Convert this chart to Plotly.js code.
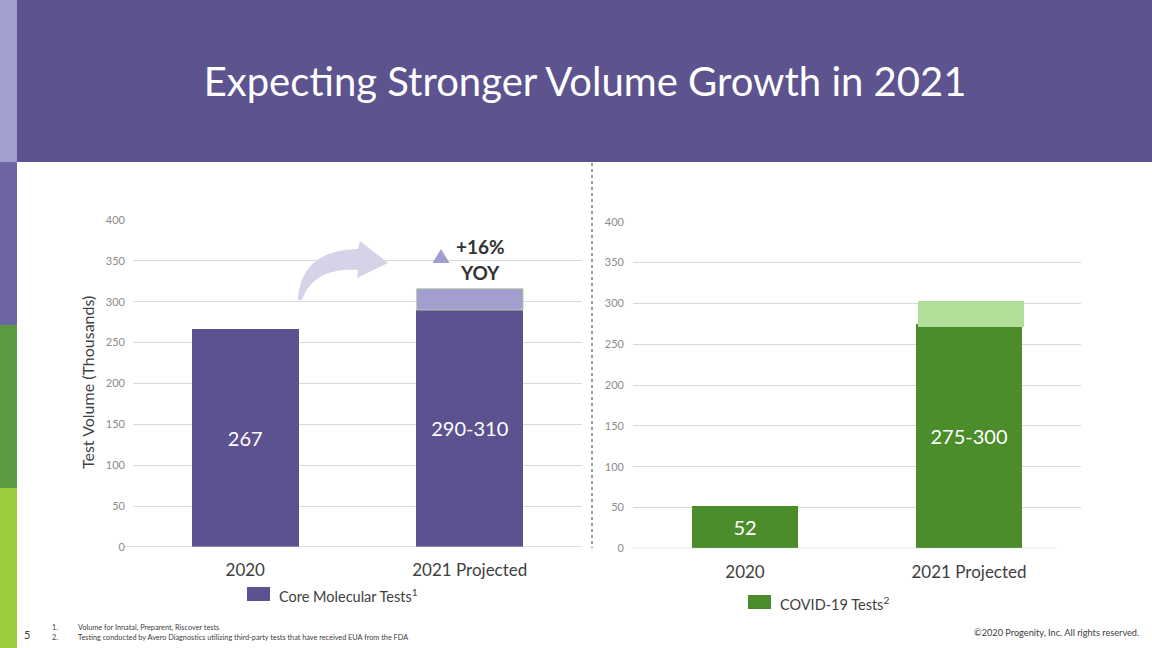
<!DOCTYPE html>
<html>
<head>
<meta charset="utf-8">
<script src="https://cdn.plot.ly/plotly-3.0.1.min.js"></script>
<style>html,body{margin:0;padding:0;background:#fff;}#chart{width:1152px;height:648px;}</style>
</head>
<body>
<div id="chart"></div>
<script>
// ---- data ----
const categories = ['2020', '2021 Projected'];
const coreValues = [267, 290];
const coreLabels = ['267', '290-310'];
const coreRangeBase = [null, 290];
const coreRangeTop = [null, 316];
const covidValues = [52, 275];
const covidLabels = ['52', '275-300'];
const covidRangeBase = [null, 271];
const covidRangeTop = [null, 303];
const seriesNames = ['Core Molecular Tests', 'COVID-19 Tests'];
const yTicks = [0, 50, 100, 150, 200, 250, 300, 350, 400];
const growthText = ['+16%', 'YOY'];

const W = 1152, H = 648;
const px = x => x / W;
const py = y => 1 - y / H;
const FONT = 'Lato, "Open Sans", sans-serif';
const purple = '#5c528f', lightPurple = '#a29fd0';
const green = '#4b8c2b', lightGreen = '#b1de98';
const barW = 0.475;

const diff = (a, b) => a.map((v, i) => v == null ? null : v - b[i]);

const traces = [
  {type: 'bar', x: categories, y: coreValues, xaxis: 'x', yaxis: 'y', width: barW,
   marker: {color: purple}, text: coreLabels, textposition: 'inside', insidetextanchor: 'middle',
   textangle: 0, textfont: {color: '#ffffff', size: 20, family: FONT}, constraintext: 'none',
   hoverinfo: 'skip', showlegend: false, name: seriesNames[0]},
  {type: 'bar', x: categories, y: diff(coreRangeTop, coreRangeBase), base: coreRangeBase, xaxis: 'x', yaxis: 'y', width: barW,
   marker: {color: lightPurple, line: {color: '#b9d3ad', width: 1}}, hoverinfo: 'skip', showlegend: false},
  {type: 'bar', x: categories, y: covidValues, xaxis: 'x2', yaxis: 'y2', width: barW,
   marker: {color: green}, text: covidLabels, textposition: 'inside', insidetextanchor: 'middle',
   textangle: 0, textfont: {color: '#ffffff', size: 20, family: FONT}, constraintext: 'none',
   hoverinfo: 'skip', showlegend: false, name: seriesNames[1]},
  {type: 'bar', x: categories, y: diff(covidRangeTop, covidRangeBase), base: covidRangeBase, xaxis: 'x2', yaxis: 'y2', width: barW,
   offset: -barW / 2 + 0.01,
   marker: {color: lightGreen}, hoverinfo: 'skip', showlegend: false}
];

const yCommon = {range: [0, 400], tickvals: yTicks, showgrid: true, gridcolor: '#d9d9d9', gridwidth: 1,
  tickfont: {size: 11, color: '#8c8c8c', family: FONT}, showline: false, zeroline: false, ticks: '',
  ticklabelstandoff: 7, fixedrange: true};
const xCommon = {type: 'category', range: [-0.5, 1.5], showgrid: false, showline: false, zeroline: false, ticks: '',
  tickfont: {size: 17, color: '#404040', family: FONT}, fixedrange: true};

const shapes = [
  // left strip
  {type: 'rect', xref: 'paper', yref: 'paper', x0: 0, x1: px(17), y0: py(0), y1: py(162), fillcolor: '#a29ecf', line: {width: 0}, layer: 'below'},
  {type: 'rect', xref: 'paper', yref: 'paper', x0: 0, x1: px(17), y0: py(162), y1: py(325), fillcolor: '#6d66a2', line: {width: 0}, layer: 'below'},
  {type: 'rect', xref: 'paper', yref: 'paper', x0: 0, x1: px(17), y0: py(325), y1: py(488), fillcolor: '#5a9b44', line: {width: 0}, layer: 'below'},
  {type: 'rect', xref: 'paper', yref: 'paper', x0: 0, x1: px(17), y0: py(488), y1: py(648), fillcolor: '#9ccb3b', line: {width: 0}, layer: 'below'},
  // header band
  {type: 'rect', xref: 'paper', yref: 'paper', x0: px(17), x1: 1, y0: py(0), y1: py(162), fillcolor: '#5c538f', line: {width: 0}, layer: 'below'},
  // dotted divider
  {type: 'line', xref: 'paper', yref: 'paper', x0: px(592), x1: px(592), y0: py(163), y1: py(548), line: {color: '#808080', width: 1.5, dash: 'dot'}},
  // baselines
  {type: 'line', xref: 'paper', yref: 'y', x0: px(125), x1: px(582), y0: 0, y1: 0, line: {color: '#bfbfbf', width: 1}},
  {type: 'line', xref: 'paper', yref: 'y2', x0: px(633), x1: px(1057), y0: 0, y1: 0, line: {color: '#bfbfbf', width: 1}},
  // curved arrow
  {type: 'path', xref: 'paper', yref: 'paper',
   path: ['M', px(298), py(300), 'C', px(300), py(268), px(318), py(250), px(358), py(249),
          'L', px(360), py(241), 'L', px(388), py(263), 'L', px(357), py(278), 'L', px(358), py(270),
          'C', px(332), py(268), px(310), py(276), px(302), py(300), 'Z'].join(' '),
   fillcolor: '#d5d3e8', line: {width: 0}},
  // triangle
  {type: 'path', xref: 'paper', yref: 'paper',
   path: ['M', px(432.5), py(263), 'L', px(449.5), py(263), 'L', px(441), py(249), 'Z'].join(' '),
   fillcolor: lightPurple, line: {width: 0}},
  // legend swatches
  {type: 'rect', xref: 'paper', yref: 'paper', x0: px(247), x1: px(270), y0: py(587), y1: py(601), fillcolor: purple, line: {width: 0}},
  {type: 'rect', xref: 'paper', yref: 'paper', x0: px(748), x1: px(771), y0: py(595), y1: py(609), fillcolor: green, line: {width: 0}}
];

const ann = (x, y, text, opts) => Object.assign({xref: 'paper', yref: 'paper', x: px(x), y: py(y), text: text,
  showarrow: false, xanchor: 'left', yanchor: 'middle', font: {family: FONT, size: 15, color: '#404040'}}, opts || {});

const annotations = [
  ann(480, 246, '<b>' + growthText[0] + '</b>', {xanchor: 'center', font: {family: FONT, size: 19, color: '#333333'}}),
  ann(480, 272, '<b>' + growthText[1] + '</b>', {xanchor: 'center', font: {family: FONT, size: 19, color: '#333333'}}),
  ann(277, 595, seriesNames[0] + '<sup>1</sup>', {font: {family: FONT, size: 14.5, color: '#404040'}}),
  ann(778, 603, seriesNames[1] + '<sup>2</sup>', {font: {family: FONT, size: 14.5, color: '#404040'}}),
  ann(87, 383, 'Test Volume (Thousands)', {xanchor: 'center', textangle: -90, font: {family: FONT, size: 16, color: '#404040'}}),
  ann(27, 634, '5', {xanchor: 'center', font: {family: FONT, size: 11, color: '#404040'}}),
  ann(50, 627, '1.', {font: {family: FONT, size: 7.3, color: '#404040'}}),
  ann(50, 637, '2.', {font: {family: FONT, size: 7.3, color: '#404040'}}),
  ann(76, 627, 'Volume for Innatal, Preparent, Riscover tests', {font: {family: FONT, size: 7.3, color: '#404040'}}),
  ann(76, 637, 'Testing conducted by Avero Diagnostics utilizing third-party tests that have received EUA from the FDA', {font: {family: FONT, size: 7.3, color: '#404040'}}),
  ann(1141, 632, '©2020 Progenity, Inc. All rights reserved.', {xanchor: 'right', font: {family: FONT, size: 9.2, color: '#404040'}})
];

const layout = {
  width: W, height: H,
  margin: {l: 0, r: 0, t: 0, b: 0, pad: 0},
  paper_bgcolor: '#ffffff', plot_bgcolor: 'rgba(0,0,0,0)',
  font: {family: FONT},
  title: {text: 'Expecting Stronger Volume Growth in 2021', x: px(585), xanchor: 'center', xref: 'paper',
          y: py(82), yanchor: 'middle', yref: 'paper', font: {family: FONT, size: 40, color: '#ffffff'}},
  barmode: 'overlay',
  bargap: 0,
  xaxis: Object.assign({}, xCommon, {domain: [px(133), px(582)], anchor: 'y', ticklabelstandoff: 11}),
  yaxis: Object.assign({}, yCommon, {domain: [py(547), py(220)], anchor: 'x'}),
  xaxis2: Object.assign({}, xCommon, {domain: [px(633), px(1081)], anchor: 'y2', ticklabelstandoff: 12}),
  yaxis2: Object.assign({}, yCommon, {domain: [py(548.3), py(221.7)], anchor: 'x2', ticklabelstandoff: 8}),
  shapes: shapes,
  annotations: annotations,
  showlegend: false
};

Plotly.newPlot('chart', traces, layout, {displayModeBar: false, staticPlot: true});
</script>
</body>
</html>
